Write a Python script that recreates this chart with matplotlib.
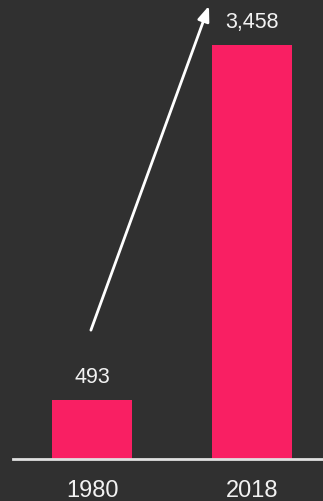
import matplotlib.pyplot as plt

YEARS = ["1980", "2018"]
VALUES = [493, 3458]

BG = "#303030"
PINK = "#f91f63"
FG = "#f2f2f2"

plt.rcParams["font.family"] = ["Liberation Sans", "DejaVu Sans"]

fig = plt.figure(figsize=(3.23, 5.01), dpi=100, facecolor=BG)
ax = fig.add_axes([13 / 323, (501 - 459) / 501, 310 / 323, 459 / 501])
ax.set_facecolor(BG)

x = range(len(YEARS))
bars = ax.bar(x, VALUES, width=0.5, color=PINK)
ax.set_xlim(-0.494, 1.444)
ax.set_ylim(0, 3834)

for bar, v in zip(bars, VALUES):
    ax.annotate(f"{v:,}", (bar.get_x() + bar.get_width() / 2, v),
                xytext=(0, 12), textcoords="offset pixels",
                ha="center", va="bottom", color=FG, fontsize=15.5)

# growth arrow
ax.annotate("", xy=(0.737, 0.993), xytext=(-0.013, 0.275),
            xycoords=("data", "axes fraction"),
            textcoords=("data", "axes fraction"),
            arrowprops=dict(arrowstyle="-|>,head_length=0.9,head_width=0.35",
                            color="white", lw=2))

for s in ["top", "right", "left"]:
    ax.spines[s].set_visible(False)
ax.spines["bottom"].set_color("#e0e0e0")
ax.spines["bottom"].set_linewidth(2)
ax.set_yticks([])
ax.set_xticks(list(x))
ax.set_xticklabels(YEARS, color=FG, fontsize=17)
ax.tick_params(axis="x", length=0, pad=15)

fig.savefig("out.png", facecolor=BG)
